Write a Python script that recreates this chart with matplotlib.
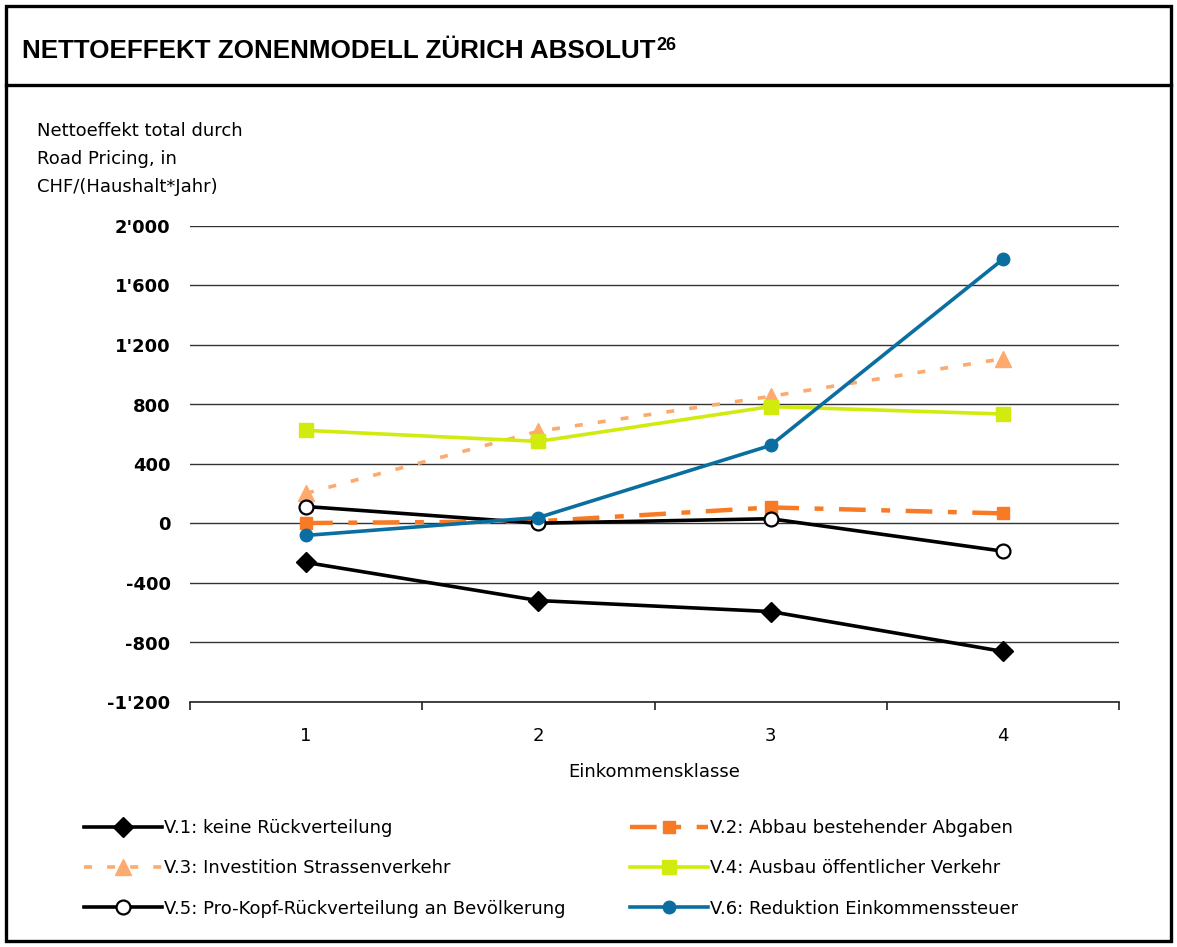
import matplotlib
matplotlib.use("Agg")
import matplotlib.pyplot as plt
from matplotlib.lines import Line2D
from matplotlib.patches import Rectangle

# Data: net effect per household and year (CHF) by income class
income_classes = [1, 2, 3, 4]
v1_keine = [-262, -518, -592, -860]
v2_abbau = [3, 15, 108, 68]
v3_strasse = [203, 620, 855, 1108]
v4_oev = [626, 552, 786, 736]
v5_prokopf = [114, 2, 32, -186]
v6_steuer = [-80, 40, 525, 1776]

y_ticks = [-1200, -800, -400, 0, 400, 800, 1200, 1600, 2000]
y_tick_labels = ["-1'200", "-800", "-400", "0", "400", "800", "1'200", "1'600", "2'000"]

labels = [
    "V.1: keine Rückverteilung",
    "V.2: Abbau bestehender Abgaben",
    "V.3: Investition Strassenverkehr",
    "V.4: Ausbau öffentlicher Verkehr",
    "V.5: Pro-Kopf-Rückverteilung an Bevölkerung",
    "V.6: Reduktion Einkommenssteuer",
]

title = "NETTOEFFEKT ZONENMODELL ZÜRICH ABSOLUT"
title_note = "26"
y_label = "Nettoeffekt total durch\nRoad Pricing, in\nCHF/(Haushalt*Jahr)"
x_label = "Einkommensklasse"

plt.rcParams["font.family"] = ["DejaVu Sans"]

W, H = 1177, 947
fig = plt.figure(figsize=(W / 100, H / 100), dpi=100)

# Outer frame and title band
fig.patches.append(Rectangle((6 / W, 6 / H), 1 - 12 / W, 1 - 12 / H, transform=fig.transFigure,
                             fill=False, edgecolor="black", linewidth=2.4))
fig.lines.append(Line2D([6 / W, 1 - 6 / W], [1 - 85 / H, 1 - 85 / H], transform=fig.transFigure,
                        color="black", linewidth=2.4))
t = fig.text(22 / W, 1 - 51 / H, title, fontsize=18.7, fontweight="bold",
             family="Liberation Sans", va="center", ha="left")
fig.canvas.draw()
bb = t.get_window_extent()
fig.text((bb.x1 + 1) / W, 1 - 45 / H, title_note, fontsize=13, fontweight="bold",
         family="Liberation Sans", va="center", ha="left")

fig.text(37 / W, 1 - 122 / H, y_label, fontsize=13, va="top", ha="left", linespacing=1.72)

ax = fig.add_axes([190 / W, 1 - 702 / H, (1119 - 190) / W, (702 - 226) / H])
ax.set_xlim(0.5, 4.5)
ax.set_ylim(-1200, 2000)

for spine in ["left", "right", "top"]:
    ax.spines[spine].set_visible(False)
ax.spines["bottom"].set_linewidth(1.2)
ax.spines["bottom"].set_color("#222222")

ax.set_yticks(y_ticks)
ax.set_yticklabels(y_tick_labels, fontsize=13, fontweight="bold")
ax.tick_params(axis="y", length=0, pad=14)
ax.yaxis.grid(True, color="#333333", linewidth=1.0)
ax.set_axisbelow(True)

ax.set_xticks([0.5, 1.5, 2.5, 3.5, 4.5])
ax.set_xticklabels([])
ax.set_xticks(income_classes, minor=True)
ax.set_xticklabels([str(c) for c in income_classes], minor=True, fontsize=13)
ax.tick_params(axis="x", which="major", direction="out", length=6, width=1.2, color="#222222")
ax.tick_params(axis="x", which="minor", length=0, pad=18)
ax.set_xlabel(x_label, fontsize=13, labelpad=13)

lw = 2.6
c_orange = "#F97A24"
c_light = "#FDAA6E"
c_lime = "#D2EB0E"
c_blue = "#0A6FA0"

h1, = ax.plot(income_classes, v1_keine, color="black", lw=lw, marker="D", ms=10,
              mfc="black", mec="black", zorder=5)
h2, = ax.plot(income_classes, v2_abbau, color=c_orange, lw=lw + 0.6, marker="s", ms=9,
              mfc=c_orange, mec=c_orange, dashes=(6, 3.5, 2, 3.5), zorder=4)
h3, = ax.plot(income_classes, v3_strasse, color=c_light, lw=lw, marker="^", ms=11,
              mfc=c_light, mec=c_light, dashes=(2.2, 4.2), zorder=3)
h4, = ax.plot(income_classes, v4_oev, color=c_lime, lw=lw, marker="s", ms=10,
              mfc=c_lime, mec=c_lime, zorder=3)
h5, = ax.plot(income_classes, v5_prokopf, color="black", lw=lw, marker="o", ms=10,
              mfc="white", mec="black", mew=1.6, zorder=6)
h6, = ax.plot(income_classes, v6_steuer, color=c_blue, lw=lw, marker="o", ms=9,
              mfc=c_blue, mec=c_blue, zorder=7)

common = dict(frameon=False, fontsize=13, handlelength=4.3, handletextpad=0.1,
              labelspacing=1.23, loc="upper left", borderaxespad=0)
fig.legend([h1, h3, h5], [labels[0], labels[2], labels[4]],
           bbox_to_anchor=(77 / W, 1 - 812 / H), **common)
fig.legend([h2, h4, h6], [labels[1], labels[3], labels[5]],
           bbox_to_anchor=(623 / W, 1 - 812 / H), **common)

fig.savefig("out.png", dpi=100)
